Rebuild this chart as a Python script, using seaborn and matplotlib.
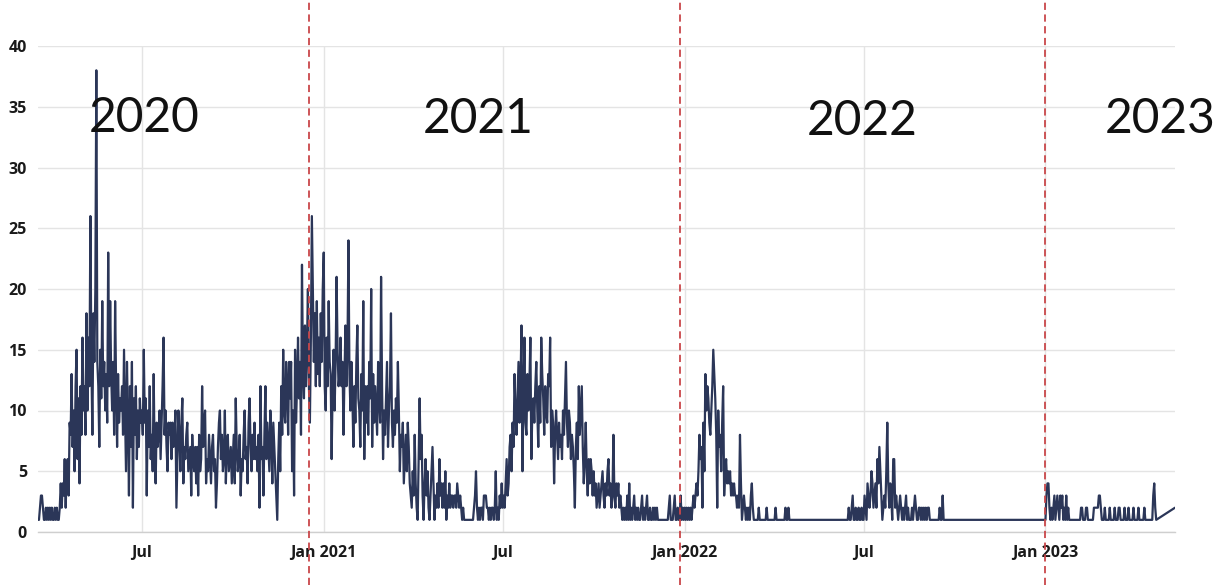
import numpy as np
import pandas as pd
import matplotlib
matplotlib.use("Agg")
import matplotlib.pyplot as plt
import matplotlib.dates as mdates
import matplotlib.transforms as mtransforms
from matplotlib.lines import Line2D
import seaborn as sns

# ---------------- data (daily counts) ----------------
start_2020 = "2020-03-18"
values_2020 = (
    [1, 1, 2, 3, 3, 2, 1, 1, 2, 1, 2, 1, 2, 1] +                                   # Mar
    [2, 1, 1, 2, 1, 2, 1, 1, 2, 4, 2, 4, 3, 6, 2, 5, 6, 3, 9, 8,
     13, 7, 10, 5, 12, 15, 6, 11, 4, 12] +                                          # Apr
    [8, 16, 10, 12, 8, 18, 10, 16, 12, 26, 14, 8, 18, 14, 20, 38, 14, 12, 7, 15,
     11, 19, 12, 14, 10, 13, 9, 23, 12, 19, 13] +                                   # May
    [10, 14, 8, 19, 12, 7, 13, 9, 11, 10, 12, 8, 15, 10, 5, 14, 9, 3, 12, 7,
     14, 2, 11, 8, 12, 6, 10, 7, 11, 9] +                                           # Jun
    [10, 8, 15, 9, 11, 3, 10, 7, 12, 6, 8, 5, 13, 6, 4, 9, 7, 8, 10, 6,
     9, 12, 16, 8, 10, 7, 5, 9, 8, 9, 6] +                                          # Jul
    [9, 7, 8, 10, 2, 6, 10, 8, 5, 9, 11, 4, 7, 6, 8, 9, 5, 6, 7, 3,
     8, 6, 5, 7, 4, 7, 3, 8, 5, 6, 12] +                                            # Aug
    [7, 9, 10, 4, 6, 5, 8, 6, 4, 7, 8, 5, 6, 2, 4, 7, 9, 10, 6, 8,
     5, 6, 10, 4, 7, 8, 5, 6, 7, 4] +                                               # Sep
    [6, 8, 4, 11, 7, 5, 6, 8, 3, 6, 5, 8, 10, 6, 7, 4, 9, 11, 7, 5,
     8, 6, 9, 6, 7, 5, 8, 2, 12, 6, 7] +                                            # Oct
    [3, 8, 12, 6, 9, 7, 5, 10, 8, 4, 9, 7, 5, 3, 1, 6, 9, 5, 12, 8,
     15, 10, 9, 14, 12, 8, 14, 11, 14, 5] +                                         # Nov
    [10, 3, 15, 9, 12, 16, 11, 14, 8, 22, 13, 11, 17, 12, 15, 20, 12, 9, 16, 26,
     20, 14, 18, 12, 19, 13, 16, 12, 18, 14, 20]                                    # Dec
)

start_2021 = "2021-01-01"
values_2021 = (
    [23, 12, 10, 16, 12, 19, 14, 13, 6, 12, 15, 10, 14, 21, 15, 12, 13, 16, 12, 14,
     8, 13, 17, 12, 15, 24, 13, 10, 14, 11, 7] +                                    # Jan
    [12, 9, 14, 17, 11, 10, 7, 13, 10, 19, 6, 12, 9, 12, 8, 14, 11, 20, 7, 13,
     9, 12, 10, 8, 14, 11, 9, 21] +                                                 # Feb
    [12, 6, 10, 8, 11, 14, 7, 10, 12, 18, 9, 7, 10, 8, 11, 9, 14, 10, 5, 8,
     7, 9, 4, 6, 8, 5, 9, 7, 4, 3, 2] +                                             # Mar
    [5, 3, 8, 4, 2, 1, 6, 11, 6, 8, 3, 1, 4, 6, 3, 5, 2, 1, 3, 5,
     7, 4, 1, 3, 2, 4, 2, 6, 3, 4] +                                                # Apr
    [2, 4, 2, 5, 1, 3, 2, 4, 2, 3, 3, 2, 3, 3, 2, 4, 3, 2, 3, 2,
     1, 2, 1, 1, 1, 1, 1, 1, 1, 1, 1] +                                             # May
    [1, 2, 3, 5, 2, 1, 2, 1, 2, 2, 1, 3, 3, 3, 2, 2, 1, 2, 1, 2,
     2, 1, 2, 5, 1, 2, 1, 3, 2, 4] +                                                # Jun
    [2, 3, 2, 4, 6, 3, 4, 7, 8, 5, 9, 7, 13, 10, 8, 11, 14, 9, 12, 17,
     5, 11, 16, 9, 8, 13, 10, 12, 16, 6, 10] +                                      # Jul
    [11, 9, 12, 14, 10, 7, 12, 9, 16, 13, 11, 8, 12, 10, 9, 13, 12, 16, 7, 10,
     9, 4, 8, 10, 8, 6, 9, 7, 8, 6, 10] +                                           # Aug
    [8, 11, 14, 9, 7, 10, 9, 6, 8, 7, 5, 2, 7, 9, 6, 12, 8, 10, 12, 7,
     4, 6, 9, 5, 3, 6, 4, 6, 5, 3] +                                                # Sep
    [5, 3, 4, 2, 3, 4, 2, 3, 4, 5, 3, 2, 4, 3, 5, 6, 3, 4, 2, 3,
     8, 3, 2, 4, 3, 4, 2, 3, 2, 1, 2] +                                             # Oct
    [1, 2, 1, 3, 1, 4, 1, 2, 1, 2, 3, 1, 2, 1, 2, 1, 1, 2, 3, 1,
     2, 1, 2, 3, 1, 1, 2, 1, 1, 2] +                                                # Nov
    [1, 2, 1, 2, 1, 1, 1, 1, 1, 1, 1, 1, 1, 1, 1, 2, 3, 1, 1, 1,
     2, 3, 1, 1, 2, 1, 1, 3, 1, 2, 1]                                               # Dec
)

start_2022 = "2022-01-01"
values_2022 = (
    [2, 1, 2, 1, 2, 1, 2, 1, 2, 3, 2, 3, 4, 3, 5, 8, 6, 7, 2, 9,
     5, 13, 10, 12, 11, 9, 8, 10, 12, 15, 13] +                                     # Jan
    [11, 8, 2, 10, 7, 8, 5, 9, 12, 3, 5, 6, 4, 5, 4, 5, 3, 4, 3, 4,
     3, 3, 2, 3, 2, 8, 4, 1] +                                                      # Feb
    [2, 3, 2, 1, 2, 1, 2, 1, 3, 4, 2, 1, 1, 1, 1, 1, 2, 1, 1, 1,
     1, 1, 1, 1, 2, 1, 1, 1, 1, 1, 1] +                                             # Mar
    [1, 1, 2, 1, 1, 1, 1, 1, 1, 1, 1, 1, 2, 1, 1, 2, 1, 1, 1, 1,
     1, 1, 1, 1, 1, 1, 1, 1, 1, 1] +                                                # Apr
    [1] * 31 +                                                                      # May
    [1, 1, 1, 1, 1, 1, 1, 1, 1, 1, 1, 1, 1, 1, 1, 2, 1, 1, 2, 3,
     1, 1, 2, 1, 1, 2, 1, 1, 2, 1] +                                                # Jun
    [1, 3, 2, 1, 4, 3, 2, 3, 5, 4, 2, 3, 4, 2, 6, 4, 7, 5, 3, 1,
     2, 3, 2, 5, 9, 4, 2, 4, 3, 1, 6] +                                             # Jul
    [6, 2, 3, 2, 1, 2, 3, 2, 1, 2, 1, 2, 3, 1, 2, 1, 1, 1, 2, 1,
     2, 3, 2, 1, 1, 2, 2, 1, 2, 1, 2] +                                             # Aug
    [1, 2, 1, 2, 2, 1, 1, 1, 1, 1, 1, 1, 1, 1, 1, 2, 1, 1, 3, 1,
     1, 1, 1, 1, 1, 1, 1, 1, 1, 1] +                                                # Sep
    [1] * 92                                                                        # Oct-Dec
)

start_2023 = "2023-01-01"
values_2023 = (
    [1, 3, 4, 4, 2, 1, 2, 1, 2, 3, 1, 2, 3, 2, 1, 3, 2, 3, 1, 2,
     1, 3, 1, 2, 1, 1, 1, 1, 1, 1, 1] +                                             # Jan
    [1, 1, 1, 1, 1, 2, 2, 1, 1, 1, 2, 2, 1, 1, 1, 1, 1, 1, 2, 2,
     2, 2, 2, 3, 3, 2, 1, 1] +                                                      # Feb
    [1, 2, 1, 1, 1, 1, 2, 1, 1, 1, 1, 2, 1, 1, 1, 2, 2, 1, 1, 1,
     1, 2, 1, 1, 1, 2, 1, 1, 1, 1, 2] +                                             # Mar
    [1, 1, 1, 1, 2, 1, 1, 1, 1, 1, 2, 1, 1, 1, 1, 1, 1, 1, 1, 3,
     4, 2, 1]                                                                       # Apr 1-23
)
tail_dates = ["2023-05-12"]
tail_values = [2]

year_labels = ["2020", "2021", "2022", "2023"]
divider_dates = ["2020-12-17", "2021-12-27", "2023-01-01"]

# ---------------- assemble frame ----------------
pieces = []
for start, vals in [(start_2020, values_2020), (start_2021, values_2021),
                    (start_2022, values_2022), (start_2023, values_2023)]:
    pieces.append(pd.DataFrame({"date": pd.date_range(start, periods=len(vals), freq="D"),
                                "value": vals}))
pieces.append(pd.DataFrame({"date": pd.to_datetime(tail_dates), "value": tail_values}))
df = pd.concat(pieces, ignore_index=True)

# ---------------- style ----------------
sns.set_theme(style="whitegrid")
plt.rcParams["font.family"] = ["Open Sans", "DejaVu Sans"]

W, H = 1228, 585
fig = plt.figure(figsize=(W / 100, H / 100), dpi=100)
ax = fig.add_axes([38 / W, (H - 532) / H, (1175 - 38) / W, (532 - 46) / H])

line_color = "#2b3658"
sns.lineplot(data=df, x="date", y="value", ax=ax, color=line_color, linewidth=1.6)

ax.set_xlim(df["date"].min(), df["date"].max())
ax.set_ylim(0, 40)
ax.set_yticks(range(0, 41, 5))
ax.xaxis.set_major_locator(mdates.MonthLocator(bymonth=[1, 7]))
ax.xaxis.set_major_formatter(
    matplotlib.ticker.FuncFormatter(
        lambda v, p: ("Jul" if mdates.num2date(v).month == 7
                      else mdates.num2date(v).strftime("Jan %Y"))))
ax.set_xlabel("")
ax.set_ylabel("")

ax.grid(True, color="#e4e4e4", linewidth=1.0)
for s in ["left", "right", "top"]:
    ax.spines[s].set_visible(False)
ax.spines["bottom"].set_color("#cfcfcf")
ax.spines["bottom"].set_linewidth(1.0)
ax.tick_params(axis="both", length=0, labelsize=11.5, colors="#1a1a1a")
ax.tick_params(axis="y", pad=8)
ax.tick_params(axis="x", pad=9)
for lab in ax.get_xticklabels() + ax.get_yticklabels():
    lab.set_fontweight("bold")

# dividers spanning the whole figure height
trans = mtransforms.blended_transform_factory(ax.transData, fig.transFigure)
for d in divider_dates:
    xv = mdates.date2num(pd.Timestamp(d))
    fig.add_artist(Line2D([xv, xv], [0, 1], transform=trans, color="#c9474a",
                          linewidth=1.3, linestyle=(0, (4, 2.5))))

# year labels
year_pos = [(144, 118), (478, 119), (862, 121), (1160, 119)]
for lab, (px, py) in zip(year_labels, year_pos):
    fig.text(px / W, 1 - py / H, lab, ha="center", va="center", fontsize=34.5,
             family=["Lato", "DejaVu Sans"], fontweight="normal", color="#111111")

fig.savefig("out.png", dpi=100)
